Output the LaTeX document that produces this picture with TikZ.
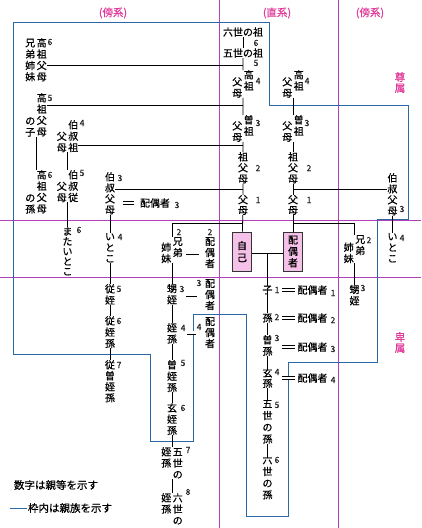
\documentclass[tikz,border=0pt]{standalone}
\usepackage{fontspec}
\setmainfont{Noto Sans CJK JP}[FakeBold=0.6]
\usepackage{tikz}
\usetikzlibrary{positioning}
\usepackage{xcolor}
\definecolor{kinpink}{HTML}{E2399A}
\definecolor{kinline}{HTML}{B23FB8}
\definecolor{kinblue}{HTML}{2A69A6}
\definecolor{kinfill}{HTML}{F6C1E8}

% 縦書きの一列 / 二列
\newcommand\vcol[2][11.3pt]{\vtop{\baselineskip=#1\lineskiplimit=-\maxdimen\lineskip=0pt\let\\\cr\halign{\hfil##\hfil\cr#2\crcr}}}
\newcommand\vpair[3]{\raisebox{-#3}{\vcol{#2}}\kern1.5pt\vcol{#1}}

\tikzset{
    vt/.style={inner sep=0pt, anchor=north, font=\fontsize{10}{11}\selectfont},
    ht/.style={inner sep=0pt, font=\fontsize{10}{11}\selectfont},
    deg/.style={inner sep=0pt, text=black!85, font=\fontsize{8.5}{9}\selectfont},
    kinbox/.style={draw=black!80, fill=kinfill, line width=0.7pt, minimum width=19pt, minimum height=39pt, inner sep=0pt, font=\fontsize{10}{11}\selectfont},
    link/.style={line width=0.8pt},
    spouse/.style={double, double distance=2.6pt, line width=0.7pt},
    divider/.style={kinline, line width=0.9pt},
    kinframe/.style={kinblue, line width=0.9pt},
    sect/.style={inner sep=0pt, text=kinpink, font=\fontsize{10.5}{11}\selectfont}
}

\begin{document}
\begin{tikzpicture}[x=1pt, y=-1pt]
    \fill[white] (0,0) rectangle (421,528);
    \useasboundingbox (0,0) rectangle (421,528);

    % 1. 区分線と見出し
    \draw[divider] (219,0) -- (219,528);
    \draw[divider] (338,0) -- (338,528);
    \draw[divider] (0,220) -- (421,220);
    \draw[divider] (0,277) -- (421,277);
    \node[sect] (bokeiL) at (113,13) {(傍系)};
    \node[sect] (chokkei) at (277,13) {(直系)};
    \node[sect] (bokeiR) at (370,13) {(傍系)};
    \node[sect, anchor=north] (sonzoku) at (400,72) {\vcol[11pt]{尊\\属}};
    \node[sect, anchor=north] (hizoku) at (400,332) {\vcol[11pt]{卑\\属}};

    % 2. 親族の枠
    \draw[kinframe] (13,22) -- (269,22) -- (269,105) -- (408,105) -- (408,219) -- (377,219)
        -- (377,362) -- (288,362) -- (288,516) -- (246,516) -- (246,314) -- (193,314)
        -- (193,441) -- (150,441) -- (150,354) -- (13,354) -- cycle;

    % 3. 直系（本人側・配偶者側）
    \node[ht] (rokusei) at (243,32) {六世の祖};
    \node[ht] (gosei) at (243,53) {五世の祖};
    \node[vt] (koso1) at (243,70) {\vpair{高\\祖}{父\\母}{7pt}};
    \node[vt] (soso1) at (243,115) {\vpair{曽\\祖}{父\\母}{6pt}};
    \node[vt] (sofu1) at (243,152) {\vcol[11pt]{祖\\父\\母}};
    \node[vt] (fubo1) at (243,195) {\vcol[10.5pt]{父\\母}};
    \node[kinbox] (jiko) at (242,251.5) {\vcol[12pt]{自\\己}};

    \node[vt] (koso2) at (293,70) {\vpair{高\\祖}{父\\母}{7pt}};
    \node[vt] (soso2) at (293,115) {\vpair{曽\\祖}{父\\母}{6pt}};
    \node[vt] (sofu2) at (293,152) {\vcol[11pt]{祖\\父\\母}};
    \node[vt] (fubo2) at (293,195) {\vcol[10.5pt]{父\\母}};
    \node[kinbox] (haigu) at (293,251.5) {\vcol[11.5pt]{配\\偶\\者}};

    % 4. 傍系（本人側）
    \node[vt] (kosokyo) at (36,38) {\vpair{高\\祖\\父\\母}{兄\\弟\\姉\\妹}{0pt}};
    \node[vt] (kosoko) at (36,93) {\vpair{高\\祖\\父\\母}{の\\子}{23pt}};
    \node[vt] (kosomago) at (36,170) {\vpair{高\\祖\\父\\母}{の\\孫}{23pt}};
    \node[vt] (ojiso) at (67.5,120) {\vpair{伯\\叔\\祖}{父\\母}{11.5pt}};
    \node[vt] (ojiju) at (67.5,170) {\vpair{伯\\叔\\従}{父\\母}{11.5pt}};
    \node[vt] (mata) at (67.5,227) {\vcol[10pt]{ま\\た\\い\\と\\こ}};
    \node[vt] (oji1) at (110,172) {\vcol[11pt]{伯\\叔\\父\\母}};
    \node[ht] (ojisp1) at (155,203) {配偶者};
    \node[vt] (itoko1) at (110,233) {\vcol[11pt]{い\\と\\こ}};
    \node[vt] (jutei) at (110,284) {\vcol{従\\姪}};
    \node[vt] (juteison) at (110,316) {\vcol{従\\姪\\孫}};
    \node[vt] (jusoteison) at (110,360) {\vcol[11pt]{従\\曽\\姪\\孫}};

    \node[vt] (kyodai1) at (172,237) {\vpair{兄\\弟}{姉\\妹}{6pt}};
    \node[vt] (kyosp1) at (210,237) {\vcol[11pt]{配\\偶\\者}};
    \node[vt] (oimei1) at (172,284) {\vcol{甥\\姪}};
    \node[vt] (oimeisp) at (210,279) {\vcol[11pt]{配\\偶\\者}};
    \node[vt] (teison) at (172,323) {\vcol{姪\\孫}};
    \node[vt] (teisonsp) at (210,317) {\vcol[11pt]{配\\偶\\者}};
    \node[vt] (soteison) at (172,360) {\vcol{曽\\姪\\孫}};
    \node[vt] (genteison) at (172,403) {\vcol{玄\\姪\\孫}};
    \node[vt] (goteison) at (172,447) {\vpair{五\\世\\の}{姪\\孫}{0pt}};
    \node[vt] (rokuteison) at (172,493) {\vpair{六\\世\\の}{姪\\孫}{0pt}};

    % 5. 傍系（配偶者側）
    \node[vt] (oji2) at (392.5,173) {\vcol[11pt]{伯\\叔\\父\\母}};
    \node[vt] (itoko2) at (392.5,233) {\vcol[11pt]{い\\と\\こ}};
    \node[vt] (kyodai2) at (354.5,235) {\vpair{兄\\弟}{姉\\妹}{8pt}};
    \node[vt] (oimei2) at (354.5,285) {\vcol{甥\\姪}};

    % 6. 卑属（直系）
    \node[ht] (ko) at (267.5,290) {子};
    \node[ht] (mago) at (267.5,318) {孫};
    \node[vt] (himago) at (267.5,335) {\vcol{曽\\孫}};
    \node[vt] (genson) at (267.5,368) {\vcol[10.5pt]{玄\\孫}};
    \node[vt] (goseison) at (267.5,400) {\vcol[11.7pt]{五\\世\\の\\孫}};
    \node[vt] (rokuseison) at (267.5,455) {\vcol[11.7pt]{六\\世\\の\\孫}};
    \node[ht] (kosp) at (312.5,290) {配偶者};
    \node[ht] (magosp) at (312.5,318) {配偶者};
    \node[ht] (himagosp) at (312.5,347) {配偶者};
    \node[ht] (gensonsp) at (312.5,378) {配偶者};

    % 7. 親等の数字
    \foreach \x/\y/\n [count=\i] in {256/43/6, 256/63/5, 258/81/4, 258/123/3, 258/168/2, 258/200/1,
        307/81/4, 307/123/3, 309/168/2, 309/200/1,
        50/42/6, 50/98/5, 50/175/6, 82/123/4, 82/173/5, 79/230/6,
        120/178/3, 120/237/4, 119/289/5, 119/321/6, 119/365/7, 177/205/3,
        179/232/2, 210/232/2, 182/289/3, 199/283/3, 183/328/4, 199/327/4,
        183/363/5, 183/408/6, 188/450/7, 188/492/8,
        402/209/3, 402/238/4, 369/240/2, 363/288/3,
        277/290/1, 277/317/2, 277/338/3, 277/372/4, 277/405/5, 277/460/6,
        333/293/1, 333/320/2, 333/349/3, 333/380/4}
        \node[deg] (deg\i) at (\x,\y) {\n};

    % 8. 系統線
    \coordinate (jk6) at (243,65);
    \coordinate (jk5) at (243,105);
    \coordinate (jk4) at (243,145);
    \coordinate (jk3) at (243,189);
    \coordinate (jk2) at (243,223);
    \coordinate (js3) at (293,189);
    \coordinate (js2) at (293,223);
    \coordinate (jkid) at (267.5,253);

    \draw[link] (rokusei) -- (gosei);
    \draw[link] (gosei) -- (koso1) -- (soso1) -- (sofu1) -- (fubo1) -- (jiko);
    \draw[link] (koso2) -- (soso2) -- (sofu2) -- (fubo2) -- (haigu);
    \draw[link] (kosokyo.east |- jk6) -- (jk6);
    \draw[link] (kosoko.east |- jk5) -- (jk5);
    \draw[link] (ojiso.east |- jk4) -- (jk4);
    \draw[link] (oji1.east |- jk3) -- (jk3);
    \draw[link] (jk2) -| (kyodai1.north);
    \draw[link] (js2) -| (kyodai2.north);
    \draw[link] (js3) -- (oji2.west |- js3);

    \draw[link] (kosoko) -- (kosomago);
    \draw[link] (ojiso) -- (ojiju) -- (mata);
    \draw[link] (oji1) -- (itoko1) -- (jutei) -- (juteison) -- (jusoteison);
    \draw[link] (kyodai1) -- (oimei1) -- (teison) -- (soteison) -- (genteison) -- (goteison) -- (rokuteison);
    \draw[link] (oji2) -- (itoko2);
    \draw[link] (kyodai2) -- (oimei2);
    \draw[link] (jkid) -- (ko) -- (mago) -- (himago) -- (genson) -- (goseison) -- (rokuseison);

    % 9. 婚姻の二重線
    \draw[spouse] (jiko) -- (haigu);
    \draw[spouse] ([xshift=8pt]oji1.east |- ojisp1.west) -- ([xshift=-6pt]ojisp1.west);
    \draw[spouse] ([xshift=3.5pt]kyodai1.east |- kyosp1.west) -- ([xshift=-6pt]kyosp1.west);
    \draw[spouse] ([xshift=9pt]oimei1.east |- oimeisp.west) -- ([xshift=-8pt]oimeisp.west);
    \draw[spouse] ([xshift=10pt]teison.east |- teisonsp.west) -- ([xshift=-9pt]teisonsp.west);
    \draw[spouse] ([xshift=9.5pt]ko.east |- kosp.west) -- ([xshift=-2.5pt]kosp.west);
    \draw[spouse] ([xshift=9.5pt]mago.east |- magosp.west) -- ([xshift=-2.5pt]magosp.west);
    \draw[spouse] ([xshift=9.5pt]himago.east |- himagosp.west) -- ([xshift=-2.5pt]himagosp.west);
    \draw[spouse] ([xshift=9.5pt]genson.east |- gensonsp.west) -- ([xshift=-2.5pt]gensonsp.west);

    % 10. 凡例
    \node[ht, font=\fontsize{10.5}{12}\selectfont] (note1) at (56,485) {数字は親等を示す};
    \node[ht, font=\fontsize{10.5}{12}\selectfont] (note2) at (70,508) {枠内は親族を示す};
    \coordinate (legend) at (10,508);
    \draw[kinframe] (legend) -- ([xshift=-1pt]note2.west);
\end{tikzpicture}
\end{document}
